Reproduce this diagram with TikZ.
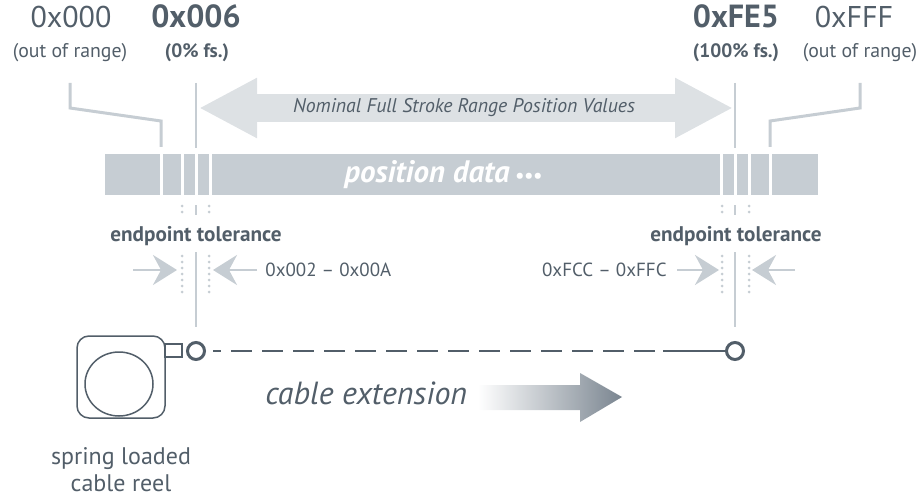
\documentclass[tikz,border=0pt]{standalone}
\usepackage{fontspec}
\setmainfont{PT Sans}
\usetikzlibrary{arrows.meta}
\definecolor{slate}{HTML}{525E69}
\definecolor{bargray}{HTML}{C6CDD3}
\definecolor{rangegray}{HTML}{DDE1E4}
\definecolor{fadegray}{HTML}{7A8590}

\begin{document}
\begin{tikzpicture}[x=0.5pt, y=-0.5pt,
        hexval/.style={anchor=base,inner sep=0pt,text=slate,font=\fontsize{15}{17}\selectfont},
        hexbold/.style={hexval,font=\fontsize{16}{18}\selectfont\bfseries},
        note/.style={anchor=base,inner sep=0pt,text=slate,font=\fontsize{9.9}{11}\selectfont},
        notebold/.style={note,font=\fontsize{9.7}{11}\selectfont\bfseries},
        tolbold/.style={note,font=\fontsize{10.6}{12}\selectfont\bfseries},
        span/.style={note,font=\fontsize{9.5}{11}\selectfont},
        leader/.style={line width=1.5pt,bargray},
        marker/.style={line width=1pt,bargray},
        dots/.style={line width=1.5pt,bargray,line cap=round,dash pattern=on 0pt off 3pt},
        squeeze/.style={line width=1.2pt,bargray,-{Stealth[length=12pt,width=15pt,inset=4pt]}},
        rangearrow/.style={line width=14pt,rangegray,
      {Triangle[length=29pt,width=28pt]}-{Triangle[length=29pt,width=28pt]}},
        reel/.style={line width=0.75pt,slate},
        cable/.style={line width=1.2pt,slate},
        eyelet/.style={circle,draw=slate,line width=1.5pt,fill=white,
      minimum size=8.5pt,inner sep=0pt}]

        \useasboundingbox (0, 0) rectangle (924, 497);

	\node [hexval] (lo) at (71, 28)            {0x000};
        \node [note] (lonote) at (70, 58)          {(out of range)};
        \node [hexbold] (zero) at (196, 28)        {0x006};
        \node [notebold] (zeronote) at (197, 58)   {(0\% fs.)};
        \node [hexbold] (full) at (736, 28)        {0xFE5};
        \node [notebold] (fullnote) at (736, 58)   {(100\% fs.)};
        \node [hexval] (hi) at (854, 28)           {0xFFF};
        \node [note] (hinote) at (860, 58)         {(out of range)};

        \coordinate (lotop) at (70, 83);
        \coordinate (loknee) at (70, 108);
        \coordinate (lobend) at (161, 121);
        \coordinate (lofoot) at (161, 147);
        \coordinate (hitop) at (860, 83);
        \coordinate (hiknee) at (860, 108);
        \coordinate (hibend) at (770, 121);
        \coordinate (hifoot) at (770, 147);
        \coordinate (zerotop) at (196, 83);
        \coordinate (zerofoot) at (196, 148);
        \coordinate (fulltop) at (735, 83);
        \coordinate (fullfoot) at (735, 148);
        \coordinate (rangeleft) at (199, 108);
        \coordinate (rangeright) at (733, 108);

        \draw [leader] (lotop) -- (loknee) -- (lobend) -- (lofoot);
        \draw [leader] (hitop) -- (hiknee) -- (hibend) -- (hifoot);
        \path [marker] (zerotop) edge (zerofoot);
        \path [marker] (fulltop) edge (fullfoot);
        \path [rangearrow] (rangeleft) edge (rangeright);
        \node [note, anchor=center, font=\fontsize{9.9}{11}\selectfont\itshape]
          (rangelabel) at (464, 108) {Nominal Full Stroke Range Position Values};

        \fill [bargray] (105, 154) rectangle (818, 195);
        \foreach \x in {161, 182, 196, 210, 721, 735, 749, 770}
          \draw [white, line width=1.5pt] (\x, 153) -- (\x, 196);
        \node [anchor=base west, inner sep=0pt, text=white,
          font=\fontsize{15.5}{17}\selectfont\bfseries\itshape]
          (data) at (344, 183) {position data\,{\fontsize{10}{11}\selectfont •••}};

        \foreach \x in {182, 209, 722, 749} {
          \draw [dots] (\x, 206) -- (\x, 215);
          \draw [dots] (\x, 256) -- (\x, 298);
        }
        \draw [marker] (196, 205) -- (196, 215);
        \draw [marker] (735, 205) -- (735, 215);

        \node [tolbold] (lotol) at (196, 241)      {endpoint tolerance};
        \node [tolbold] (hitol) at (736, 241)      {endpoint tolerance};
        \node [span, anchor=base west] (lospan) at (265, 276) {0x002 -- 0x00A};
        \node [span, anchor=base east] (hispan) at (667, 276) {0xFCC -- 0xFFC};

        \coordinate (loin) at (133, 270);
        \coordinate (loinstop) at (177, 270);
        \coordinate (loout) at (257, 270);
        \coordinate (looutstop) at (213, 270);
        \coordinate (hiin) at (677, 270);
        \coordinate (hiinstop) at (719, 270);
        \coordinate (hiout) at (795, 270);
        \coordinate (hioutstop) at (752, 270);
        \path [squeeze] (loin) edge (loinstop);
        \path [squeeze] (loout) edge (looutstop);
        \path [squeeze] (hiin) edge (hiinstop);
        \path [squeeze] (hiout) edge (hioutstop);

        \draw [reel, rounded corners=6pt] (77, 336) rectangle (165, 418);
        \draw [reel] (119, 384) ellipse [x radius=34, y radius=32];
        \draw [reel] (165, 344) rectangle (182, 357);

        \node [eyelet] (start) at (196, 351)       {};
        \node [eyelet] (stop) at (735, 351)        {};
        \coordinate (lomark) at (196, 252);
        \coordinate (himark) at (735, 252);
        \coordinate (dashend) at (655, 351);
        \coordinate (solidstart) at (663, 351);

        \path [marker, shorten >=7pt] (lomark) edge (start);
        \path [marker, shorten >=7pt] (himark) edge (stop);
        \path [cable, shorten <=3.5pt, dash pattern=on 10.5pt off 5pt, dash phase=6.5pt]
          (start) edge (dashend);
        \path [cable] (solidstart) edge (stop);

        \node [anchor=base west, inner sep=0pt, text=slate,
          font=\fontsize{16}{19}\selectfont\itshape] (extension) at (265, 404) {cable extension};
        \shade [left color=white, right color=fadegray] (478, 385) -- (580, 385) -- (580, 373)
          -- (622, 397) -- (580, 422) -- (580, 410) -- (478, 410) -- cycle;

        \node [anchor=north, inner sep=0pt, align=center, text=slate,
          font=\fontsize{12}{13.5}\selectfont] (reelname) at (121, 447) {spring loaded\\cable reel};
\end{tikzpicture}
\end{document}
